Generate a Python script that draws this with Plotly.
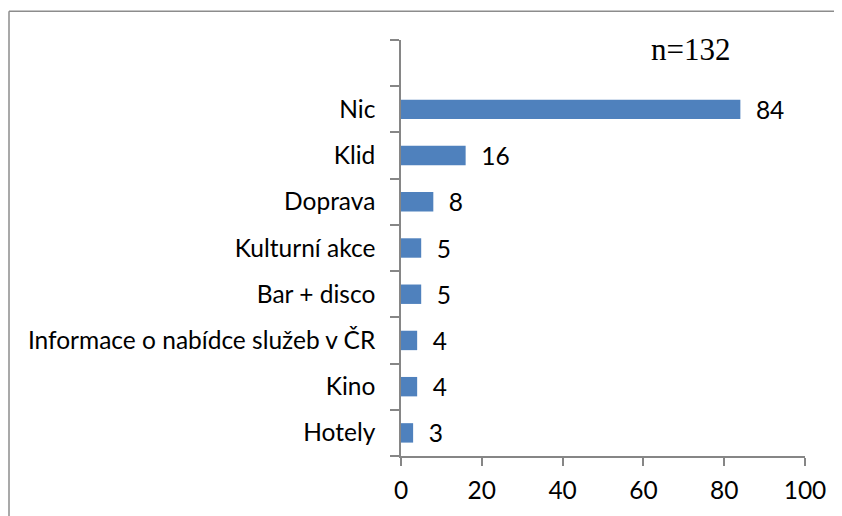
import plotly.graph_objects as go

# kategorie odspodu nahoru, horní řádek je prázdný (místo pro n=132)
kategorie = ["Hotely", "Kino", "Informace o nabídce služeb v ČR", "Bar + disco",
             "Kulturní akce", "Doprava", "Klid", "Nic", " "]
pocty = [3, 4, 4, 5, 5, 8, 16, 84, None]
x_ticks = [0, 20, 40, 60, 80, 100]
n_text = "n=132"

# stránka má okraj 8 px, proto je obrázek o 8 px menší a vše posunuté
OFF = 8
W, H = 842 - OFF, 516 - OFF
L, T = 401 - OFF, 40 - OFF
R, B = W - (805 - OFF), H - (458 - OFF)
SEDA = "#868686"
FONT = "Lato"


def px_x(p):
    return (p - OFF - L) / (W - L - R)


def px_y(p):
    return (H - B - (p - OFF)) / (H - T - B)


fig = go.Figure(go.Bar(
    x=pocty, y=kategorie, orientation="h",
    marker=dict(color="#4F81BD", line=dict(width=0)),
    text=["\u00a0\u00a0" + str(v) if v is not None else "" for v in pocty],
    textposition="outside", cliponaxis=False, constraintext="none",
    textfont=dict(family=FONT, size=24.5, color="black"),
    hoverinfo="x+y",
))

fig.update_xaxes(range=[0, 100], tickvals=x_ticks, showgrid=False, zeroline=False,
                 showline=True, linecolor=SEDA, linewidth=1.5,
                 ticks="outside", ticklen=8, tickcolor=SEDA, tickwidth=1.5,
                 ticklabelstandoff=4,
                 tickfont=dict(family=FONT, size=24.5, color="black"))
fig.update_yaxes(type="category", categoryorder="array", categoryarray=kategorie,
                 showgrid=False, showline=True, linecolor=SEDA, linewidth=1.5,
                 ticks="outside", ticklen=9, tickcolor=SEDA, tickwidth=1.5,
                 tickson="boundaries", ticklabelstandoff=19,
                 tickfont=dict(family=FONT, size=24.5, color="black"))

# rámeček grafu (levá a horní hrana)
fig.add_shape(type="line", xref="paper", yref="paper",
              x0=px_x(9), y0=px_y(11), x1=px_x(9), y1=px_y(530),
              line=dict(color="#8c8c8c", width=1.5))
fig.add_shape(type="line", xref="paper", yref="paper",
              x0=px_x(9), y0=px_y(11), x1=px_x(850), y1=px_y(11),
              line=dict(color="#8c8c8c", width=1.5))

fig.add_annotation(text=n_text, xref="paper", yref="paper",
                   x=px_x(690), y=px_y(50), xanchor="center", yanchor="middle",
                   showarrow=False,
                   font=dict(family="Liberation Serif", size=31, color="black"))

fig.update_layout(width=W, height=H, bargap=0.58, showlegend=False,
                  plot_bgcolor="white", paper_bgcolor="white",
                  margin=dict(l=L, r=R, t=T, b=B))

fig.write_html("out.html")
